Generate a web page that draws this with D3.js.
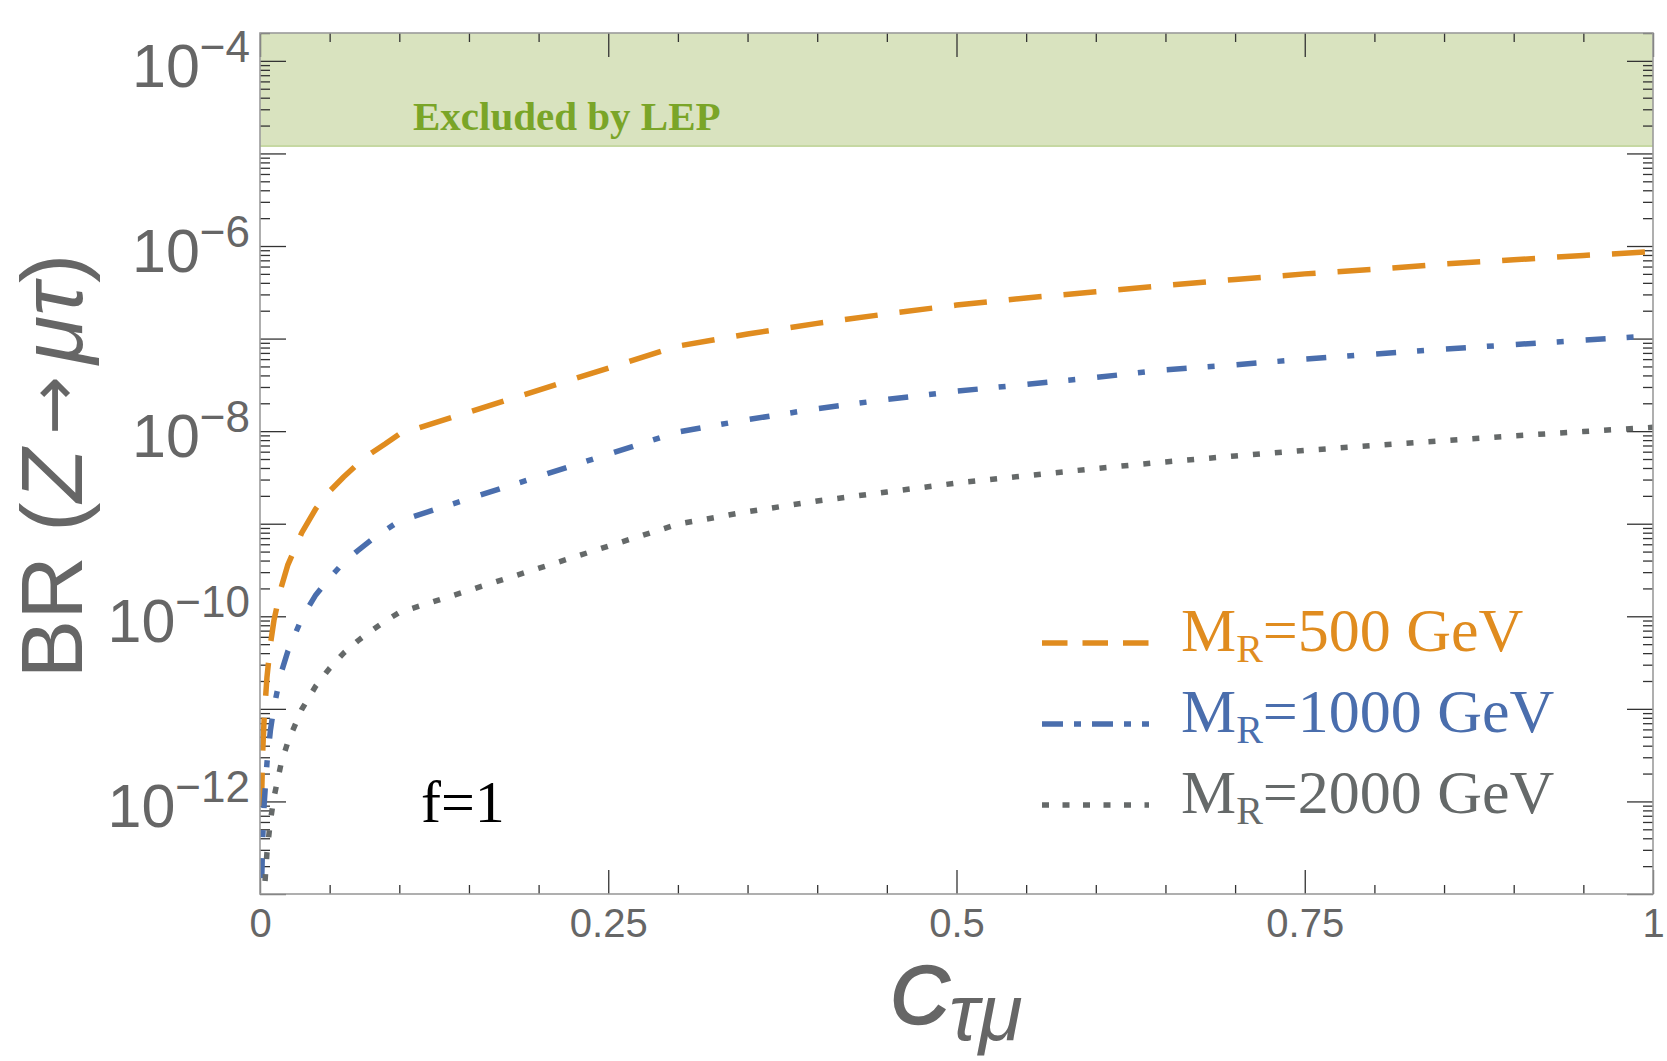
<!DOCTYPE html>
<html>
<head>
<meta charset="utf-8">
<script src="https://cdn.jsdelivr.net/npm/d3@7"></script>
<style>
  body { margin: 0; background: #fff; }
  svg { display: block; }
</style>
</head>
<body>
<svg id="chart" width="1667" height="1061"></svg>
<script>
// values (BR on log axis vs c_tau-mu)
const cVals = [0.0005, 0.001, 0.002, 0.003, 0.005, 0.0075, 0.01, 0.015, 0.02, 0.03, 0.04, 0.05, 0.06, 0.07, 0.08, 0.09, 0.1,
  0.3, 0.35, 0.4, 0.45, 0.5, 0.55, 0.6, 0.65, 0.7, 0.75, 0.8, 0.85, 0.9, 0.95, 1.0];
const br500 = [null, 9e-13, 3.6e-12, 8e-12, 2.2e-11, 5e-11, 9e-11, 2e-10, 3.6e-10, 8e-10, 1.45e-9, 2.25e-9, 3.2e-9, 4.4e-9, 5.8e-9, 7.3e-9, 9.3e-9,
  8.3e-8, 1.12e-7, 1.46e-7, 1.85e-7, 2.3e-7, 2.75e-7, 3.2e-7, 3.75e-7, 4.35e-7, 5e-7, 5.6e-7, 6.4e-7, 7.1e-7, 7.9e-7, 8.7e-7];
const br1000 = [2.6e-14, 1.05e-13, 4.2e-13, 9.5e-13, 2.6e-12, 5.9e-12, 1.05e-11, 2.4e-11, 4.2e-11, 9.5e-11, 1.7e-10, 2.6e-10, 3.8e-10, 5.1e-10, 6.7e-10, 8.5e-10, 1.07e-9,
  9.8e-9, 1.33e-8, 1.75e-8, 2.2e-8, 2.7e-8, 3.2e-8, 3.8e-8, 4.6e-8, 5.2e-8, 6.0e-8, 6.8e-8, 7.7e-8, 8.6e-8, 9.6e-8, 1.07e-7];
const br2000 = [3e-15, 1.1e-14, 4.4e-14, 1.0e-13, 2.8e-13, 6.2e-13, 1.1e-12, 2.5e-12, 4.4e-12, 9.9e-12, 1.76e-11, 2.75e-11, 4.0e-11, 5.4e-11, 7.0e-11, 8.9e-11, 1.1e-10,
  9.9e-10, 1.35e-9, 1.76e-9, 2.2e-9, 2.75e-9, 3.3e-9, 3.95e-9, 4.65e-9, 5.4e-9, 6.2e-9, 7.0e-9, 7.9e-9, 8.9e-9, 9.9e-9, 1.1e-8];
const massLabels = ["500", "1000", "2000"];
const lepLimit = 1.2e-5;
const xTickLabels = [0, 0.25, 0.5, 0.75, 1];
const yLabelExps = [-4, -6, -8, -10, -12];

const margin = { top: 33, right: 14, bottom: 167, left: 260 },
    width = 1667 - margin.left - margin.right,
    height = 1061 - margin.top - margin.bottom;

const colors = ["#e08c1f", "#4a6ead", "#656969"];
const dashes = ["33,22", "20,21,7,22", "7,15"];
const legendDashes = ["25.5,15", "21,11,7,11", "7,13.5"];

const svg = d3.select("#chart");
const g = svg.append("g").attr("transform", `translate(${margin.left},${margin.top})`);

const x = d3.scaleLinear().domain([0, 1]).range([0, width]);
const y = d3.scaleLog().domain([1e-13, 2e-4]).range([height, 0]);

// excluded band
g.append("rect").attr("x", 0).attr("y", 0).attr("width", width).attr("height", y(lepLimit))
    .attr("fill", "#d9e3bf");
g.append("line").attr("x1", 0).attr("x2", width).attr("y1", y(lepLimit)).attr("y2", y(lepLimit))
    .attr("stroke", "#c6d8a2").attr("stroke-width", 2);
g.append("text").attr("x", 153).attr("y", 97)
    .attr("font-family", "Liberation Serif, Times New Roman, serif").attr("font-weight", "bold")
    .attr("font-size", 41).attr("fill", "#7aa528").text("Excluded by LEP");

// ticks
const yMajor = d3.range(-13, -3).map(e => +("1e" + e));
const yMinor = [];
d3.range(-13, -3).forEach(e => {
    for (let k = 2; k <= 9; k++) {
        const v = +(k + "e" + e);
        if (v <= 2e-4) yMinor.push(v);
    }
});
const xMajor = xTickLabels;
const xMinor = d3.range(1, 20).map(i => i * 0.05).filter(v => Math.abs(v * 4 - Math.round(v * 4)) > 1e-6);

function tickAxis(axis, tx, ty) {
    const a = g.append("g").attr("transform", `translate(${tx},${ty})`).call(axis);
    a.select(".domain").remove();
    a.selectAll(".tick line").attr("stroke", "#333").attr("stroke-width", 1.3);
    return a;
}
tickAxis(d3.axisLeft(y).tickValues(yMajor).tickSize(-26).tickFormat(""), 0, 0);
tickAxis(d3.axisLeft(y).tickValues(yMinor).tickSize(-10).tickFormat(""), 0, 0);
tickAxis(d3.axisRight(y).tickValues(yMajor).tickSize(-26).tickFormat(""), width, 0);
tickAxis(d3.axisRight(y).tickValues(yMinor).tickSize(-10).tickFormat(""), width, 0);
tickAxis(d3.axisTop(x).tickValues(xMajor).tickSize(-24).tickFormat(""), 0, 0);
tickAxis(d3.axisTop(x).tickValues(xMinor).tickSize(-9).tickFormat(""), 0, 0);
tickAxis(d3.axisBottom(x).tickValues(xMinor).tickSize(-9).tickFormat(""), 0, height);
const xAxis = tickAxis(d3.axisBottom(x).tickValues(xMajor).tickSize(-24).tickPadding(15).tickFormat(d => String(d)), 0, height);
xAxis.attr("font-family", "Liberation Sans, Arial, sans-serif").attr("font-size", 40);
xAxis.selectAll("text").attr("fill", "#666");

// y tick labels 10^n
yLabelExps.forEach(e => {
    const t = g.append("text").attr("x", -10).attr("y", y(+("1e" + e)) + 26)
        .attr("text-anchor", "end").attr("fill", "#666")
        .attr("font-family", "Liberation Sans, Arial, sans-serif").attr("font-size", 61);
    t.append("tspan").text("10");
    t.append("tspan").attr("dy", -25).attr("font-size", 44).text("\u2212" + (-e));
});

// curves
svg.append("clipPath").attr("id", "plotClip").append("rect").attr("width", width).attr("height", height);
const series = [br500, br1000, br2000].map(vals => cVals.map((c, i) => ({ c: c, v: vals[i] })));
const line = d3.line().defined(d => d.v != null).x(d => x(d.c)).y(d => y(d.v));
g.append("g").attr("clip-path", "url(#plotClip)").selectAll("path").data(series).join("path")
    .attr("d", line).attr("fill", "none")
    .attr("stroke", (d, i) => colors[i]).attr("stroke-width", 5.5)
    .attr("stroke-dasharray", (d, i) => dashes[i]);

// frame
g.append("rect").attr("width", width).attr("height", height).attr("fill", "none")
    .attr("stroke", "#9b9b9b").attr("stroke-width", 1.6);

// legend
const legend = g.append("g").attr("transform", "translate(782, 0)");
massLabels.forEach((m, i) => {
    const row = legend.append("g").attr("transform", `translate(0, ${618 + i * 81})`);
    row.append("line").attr("x1", 0).attr("x2", 107).attr("y1", -8).attr("y2", -8)
        .attr("stroke", colors[i]).attr("stroke-width", 5.5).attr("stroke-dasharray", legendDashes[i]);
    const t = row.append("text").attr("x", 139).attr("y", 0).attr("fill", colors[i])
        .attr("font-family", "Liberation Serif, Times New Roman, serif").attr("font-size", 62);
    t.append("tspan").text("M");
    t.append("tspan").attr("dy", 11).attr("font-size", 40).text("R");
    t.append("tspan").attr("dy", -11).text("=" + m + " GeV");
});

g.append("text").attr("x", 161).attr("y", 789)
    .attr("font-family", "Liberation Serif, Times New Roman, serif").attr("font-size", 60)
    .attr("fill", "#000").text("f=1");

// axis titles
const yTitle = svg.append("text").attr("transform", "translate(82,466) rotate(-90)")
    .attr("text-anchor", "middle").attr("fill", "#666")
    .attr("font-family", "Liberation Sans, Arial, sans-serif").attr("font-size", 88);
yTitle.append("tspan").text("BR (");
yTitle.append("tspan").attr("font-style", "italic").text("Z");
yTitle.append("tspan").attr("dx", 14).attr("dy", -5).attr("font-family", "DejaVu Sans, sans-serif")
    .attr("font-size", 70).text("\u2192");
yTitle.append("tspan").attr("dx", 12).attr("dy", 5).attr("font-style", "italic").text("\u03bc\u03c4");
yTitle.append("tspan").text(")");

const xTitle = svg.append("text").attr("x", margin.left + width / 2).attr("y", 1023)
    .attr("text-anchor", "middle").attr("fill", "#666")
    .attr("font-family", "Liberation Sans, Arial, sans-serif").attr("font-style", "italic");
xTitle.append("tspan").attr("font-size", 81).attr("stroke", "#666").attr("stroke-width", 2.5).text("C");
xTitle.append("tspan").attr("font-size", 80).attr("dy", 17).text("\u03c4\u03bc");
</script>
</body>
</html>
